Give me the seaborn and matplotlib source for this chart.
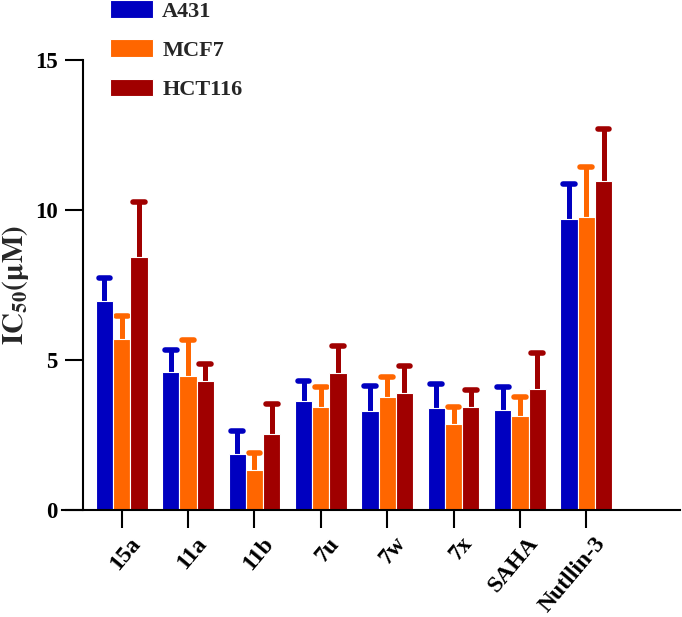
import matplotlib
matplotlib.use("Agg")
import matplotlib.pyplot as plt
import matplotlib.transforms as mtransforms
import seaborn as sns
import pandas as pd

# IC50 values (uM)
compounds = ["15a", "11a", "11b", "7u", "7w", "7x", "SAHA", "Nutllin-3"]
lines = ["A431", "MCF7", "HCT116"]
a431 = [6.97, 4.60, 1.87, 3.62, 3.31, 3.41, 3.33, 9.71]
a431_err = [0.76, 0.74, 0.78, 0.69, 0.83, 0.80, 0.77, 1.14]
mcf7 = [5.69, 4.46, 1.35, 3.45, 3.76, 2.88, 3.12, 9.75]
mcf7_err = [0.76, 1.20, 0.55, 0.66, 0.68, 0.54, 0.66, 1.68]
hct116 = [8.44, 4.31, 2.52, 4.57, 3.90, 3.43, 4.05, 10.96]
hct116_err = [1.84, 0.55, 1.03, 0.89, 0.91, 0.57, 1.18, 1.74]

colors = ["#0000c0", "#ff6600", "#a00000"]

df = pd.DataFrame({
    "compound": compounds * 3,
    "line": [l for l in lines for _ in compounds],
    "ic50": a431 + mcf7 + hct116,
})
errs = [a431_err, mcf7_err, hct116_err]

sns.set_style("ticks")
plt.rcParams["font.family"] = ["Liberation Serif", "DejaVu Serif"]
plt.rcParams["font.weight"] = "bold"
plt.rcParams["mathtext.fontset"] = "stix"

fig = plt.figure(figsize=(6.82, 6.17), dpi=100)
ax = fig.add_axes([0.0909, 0.1734, 0.906, 0.7294])

sns.barplot(data=df, x="compound", y="ic50", hue="line", hue_order=lines,
            palette=colors, saturation=1, width=0.78, edgecolor="white",
            linewidth=0.8, errorbar=None, ax=ax, zorder=2)

for cont, col, err in zip(ax.containers, colors, errs):
    for bar, e in zip(cont, err):
        x = bar.get_x() + bar.get_width() / 2
        h = bar.get_height()
        ax.plot([x, x], [h, h + e], color=col, lw=3.6, solid_capstyle="butt", zorder=1)
        hw = bar.get_width() * 0.34
        ax.plot([x - hw, x + hw], [h + e, h + e], color=col, lw=4.0,
                solid_capstyle="round", zorder=1)

ax.set_xlim(-0.90, 8.41)
ax.set_ylim(0, 15)
ax.set_yticks([0, 5, 10, 15])
ax.set_xlabel("")
ax.set_ylabel(r"$\mathbf{IC_{50}(\mu M)}$", fontsize=21, va="center")
ax.yaxis.set_label_coords(-0.075, 0.5)

for s in ["top", "right"]:
    ax.spines[s].set_visible(False)
ax.spines["left"].set_position(("axes", 0.0335))
for s in ["left", "bottom"]:
    ax.spines[s].set_linewidth(1.5)
    ax.spines[s].set_color("black")

ax.tick_params(axis="both", direction="out", length=13, width=1.5, colors="black")
ax.tick_params(axis="y", labelsize=16.5, pad=5)
ax.tick_params(axis="x", labelsize=17, pad=5)
shift = mtransforms.ScaledTranslation(7 / 100, 2 / 100, fig.dpi_scale_trans)
for lab in ax.get_xticklabels():
    lab.set_rotation(50)
    lab.set_ha("right")
    lab.set_rotation_mode("anchor")
    lab.set_fontweight("bold")
    lab.set_transform(lab.get_transform() + shift)
for lab in ax.get_yticklabels():
    lab.set_fontweight("bold")

handles, labels = ax.get_legend_handles_labels()
ax.get_legend().remove()
fig.legend(handles, labels, loc="upper left", bbox_to_anchor=(110 / 682, 1.0),
           frameon=False, borderpad=0, borderaxespad=0, handlelength=1.95,
           handleheight=0.85, handletextpad=0.4, labelspacing=0.8,
           prop={"family": "Liberation Serif", "weight": "bold", "size": 16})

fig.savefig("out.png", dpi=100)
